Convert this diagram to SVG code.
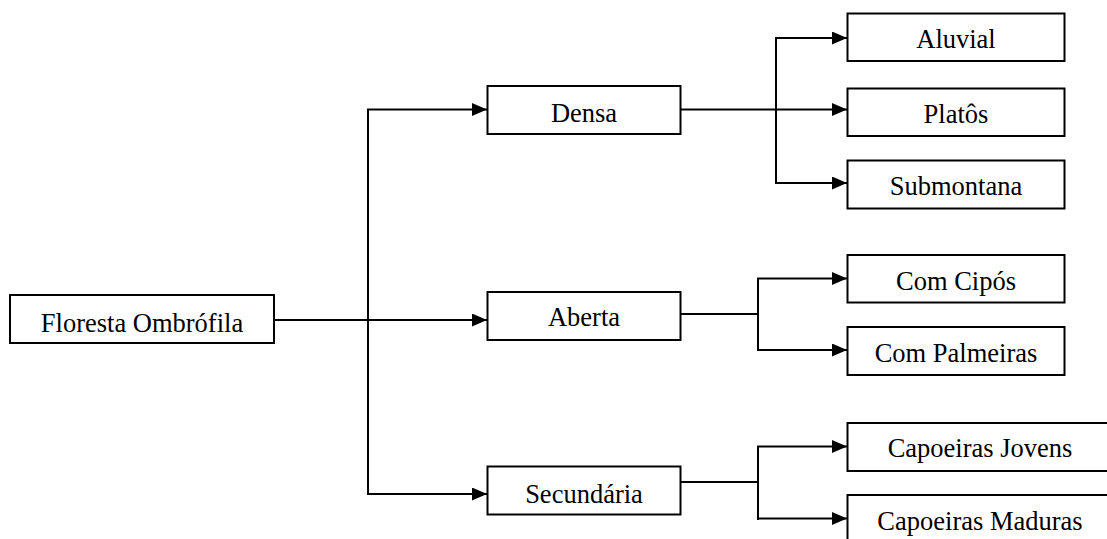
<svg xmlns="http://www.w3.org/2000/svg" width="1107" height="539" viewBox="0 0 1107 539">
  <style>
    .box { fill: #ffffff; stroke: #000000; stroke-width: 2; }
    .label { font-family: "Liberation Serif", "Times New Roman", serif; font-size: 26.5px; fill: #000000; text-anchor: middle; }
    .wire { fill: none; stroke: #000000; stroke-width: 2; }
  </style>
  <defs>
    <marker id="arrow" markerUnits="userSpaceOnUse" markerWidth="15" markerHeight="13" refX="15" refY="6.5" orient="auto">
      <path d="M0,0 L15,6.5 L0,13 Z" fill="#000000"/>
    </marker>
  </defs>

  <rect width="1107" height="539" fill="#ffffff"/>

  <!-- connectors -->
  <g id="connectors">
    <!-- root to second level -->
    <line class="wire" x1="274" y1="320" x2="487" y2="320" marker-end="url(#arrow)"/>
    <line class="wire" x1="368" y1="109.5" x2="368" y2="494"/>
    <line class="wire" x1="367" y1="109.5" x2="487" y2="109.5" marker-end="url(#arrow)"/>
    <line class="wire" x1="367" y1="494" x2="487" y2="494" marker-end="url(#arrow)"/>

    <!-- Densa branch -->
    <line class="wire" x1="681" y1="109.5" x2="847" y2="109.5" marker-end="url(#arrow)"/>
    <line class="wire" x1="776" y1="38" x2="776" y2="183"/>
    <line class="wire" x1="775" y1="38" x2="847" y2="38" marker-end="url(#arrow)"/>
    <line class="wire" x1="775" y1="183" x2="847" y2="183" marker-end="url(#arrow)"/>

    <!-- Aberta branch -->
    <line class="wire" x1="681" y1="314" x2="757" y2="314"/>
    <line class="wire" x1="758" y1="278" x2="758" y2="351"/>
    <line class="wire" x1="757" y1="278.5" x2="847" y2="278.5" marker-end="url(#arrow)"/>
    <line class="wire" x1="757" y1="350" x2="847" y2="350" marker-end="url(#arrow)"/>

    <!-- Secundaria branch -->
    <line class="wire" x1="681" y1="482" x2="757" y2="482"/>
    <line class="wire" x1="758" y1="446" x2="758" y2="520"/>
    <line class="wire" x1="757" y1="446.5" x2="847" y2="446.5" marker-end="url(#arrow)"/>
    <line class="wire" x1="757" y1="518.5" x2="847" y2="518.5" marker-end="url(#arrow)"/>
  </g>

  <!-- nodes -->
  <g id="floresta-ombrofila">
    <rect class="box" x="10" y="295" width="264" height="48"/>
    <text class="label" x="142" y="331.5">Floresta Ombrófila</text>
  </g>

  <g id="densa">
    <rect class="box" x="487.5" y="86" width="193" height="48"/>
    <text class="label" x="584" y="122">Densa</text>
  </g>

  <g id="aberta">
    <rect class="box" x="487.5" y="292" width="193" height="48"/>
    <text class="label" x="584" y="326">Aberta</text>
  </g>

  <g id="secundaria">
    <rect class="box" x="487.5" y="466.5" width="193" height="48"/>
    <text class="label" x="584" y="502.5">Secundária</text>
  </g>

  <g id="aluvial">
    <rect class="box" x="847.5" y="13.5" width="217" height="47.5"/>
    <text class="label" x="956" y="47.5">Aluvial</text>
  </g>

  <g id="platos">
    <rect class="box" x="847.5" y="88.5" width="217" height="47.5"/>
    <text class="label" x="956" y="123">Platôs</text>
  </g>

  <g id="submontana">
    <rect class="box" x="847.5" y="160.5" width="217" height="48"/>
    <text class="label" x="956" y="195">Submontana</text>
  </g>

  <g id="com-cipos">
    <rect class="box" x="847.5" y="255" width="217" height="47.5"/>
    <text class="label" x="956" y="290">Com Cipós</text>
  </g>

  <g id="com-palmeiras">
    <rect class="box" x="847.5" y="327" width="217" height="48"/>
    <text class="label" x="956" y="361.5">Com Palmeiras</text>
  </g>

  <g id="capoeiras-jovens">
    <rect class="box" x="847.5" y="423" width="265" height="48"/>
    <text class="label" x="980" y="456.5">Capoeiras Jovens</text>
  </g>

  <g id="capoeiras-maduras">
    <rect class="box" x="847.5" y="495" width="265" height="48"/>
    <text class="label" x="980" y="530">Capoeiras Maduras</text>
  </g>
</svg>
